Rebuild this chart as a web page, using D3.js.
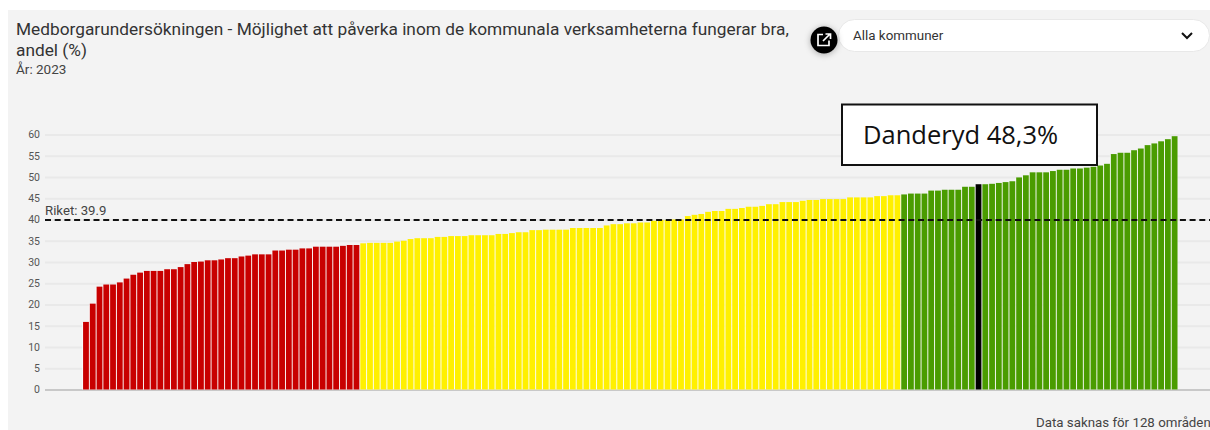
<!DOCTYPE html>
<html>
<head>
<meta charset="utf-8">
<script src="https://cdn.jsdelivr.net/npm/d3@7"></script>
<style>
  html, body { margin: 0; padding: 0; background: #fff; overflow: hidden; }
  text { font-family: Roboto, sans-serif; }
</style>
</head>
<body>
<div id="chart"></div>
<script>
// values, sorted low to high
const redValues = [15.9, 20.2, 24.2, 24.7, 24.7, 25.2, 26.1, 27, 27.5, 27.9,
  27.9, 27.9, 28.3, 28.3, 28.8, 29.5, 30, 30.1, 30.4, 30.4,
  30.6, 30.9, 30.9, 31.3, 31.5, 31.8, 31.8, 31.8, 32.7, 32.7,
  32.9, 32.9, 33.2, 33.2, 33.6, 33.6, 33.6, 33.6, 33.8, 34, 34]
const yellowValues = [34.4, 34.5, 34.5, 34.5, 34.5, 34.8, 35, 35.4, 35.6, 35.6,
  35.6, 35.9, 35.9, 36.1, 36.1, 36.1, 36.3, 36.3, 36.3, 36.3,
  36.6, 36.6, 36.8, 37, 37, 37.5, 37.5, 37.6, 37.6, 37.6,
  37.6, 38, 38, 38, 38, 38, 38.6, 38.9, 38.9, 39.1,
  39.1, 39.3, 39.3, 39.7, 39.9, 39.9, 40, 40, 40.8, 41.1,
  41.3, 41.8, 42, 42, 42.5, 42.5, 42.7, 43, 43, 43.2,
  43.6, 43.6, 44.1, 44.1, 44.1, 44.4, 44.6, 44.6, 44.8, 44.8,
  44.8, 44.8, 45.2, 45.2, 45.2, 45.2, 45.5, 45.5, 45.7, 45.7]
const greenValues = [45.9, 46.1, 46.1, 46.1, 46.8, 46.8, 47, 47, 47, 47.7,
  47.7, 48.3, 48.3, 48.4, 48.6, 48.8, 49, 49.9, 50.4, 51.1,
  51.1, 51.1, 51.4, 51.7, 51.7, 52, 52, 52.2, 52.4, 52.7,
  53.1, 55.4, 55.7, 55.7, 56.3, 56.7, 57.5, 57.9, 58.4, 58.9, 59.6]
const yTicks = [0, 5, 10, 15, 20, 25, 30, 35, 40, 45, 50, 55, 60]
const rikets = 39.9
const highlightRank = 132 // Danderyd

const width = 1210,
      height = 430

const bars = [
  ...redValues.map(v => ({ value: v, color: "#c80000" })),
  ...yellowValues.map(v => ({ value: v, color: "#fff000" })),
  ...greenValues.map(v => ({ value: v, color: "#4a9c00" }))
]
bars.forEach((d, i) => { d.rank = i })
bars[highlightRank].color = "#000"

let svg = d3.select("#chart")
  .append("svg")
  .attr("width", width)
  .attr("height", height)
  .style("display", "block")

// panel background
svg.append("rect")
  .attr("x", 8).attr("y", 10)
  .attr("width", width - 8).attr("height", height - 10)
  .attr("fill", "#f3f3f3")

let x = d3.scaleBand()
  .domain(bars.map(d => d.rank))
  .range([82.6, 1178])
  .paddingInner(0.14)
  .paddingOuter(0.07)

let y = d3.scaleLinear()
  .domain([0, 60])
  .range([389.5, 134.5])

// y axis with gridlines
let yAxis = svg.append("g")
  .attr("transform", "translate(45,0)")
  .call(d3.axisLeft(y).tickValues(yTicks).tickSize(0).tickPadding(5))
yAxis.select(".domain").remove()
yAxis.selectAll("text")
  .style("font-family", "Roboto, sans-serif")
  .style("font-size", "10.5px")
  .attr("fill", "#555")
yAxis.selectAll(".tick").append("line")
  .attr("x1", 0)
  .attr("x2", width - 45)
  .attr("stroke", d => d === 0 ? "#c8c8c8" : "#e9e9e9")
  .attr("stroke-width", 2)

// white strip behind the bars shows through the gaps
svg.append("g").selectAll("rect")
  .data(bars)
  .join("rect")
  .attr("x", d => x(d.rank) - 1)
  .attr("width", x.step())
  .attr("y", d => y(d.value) + 1)
  .attr("height", d => y(0) - y(d.value) - 1)
  .attr("fill", "#fff")
  .attr("fill-opacity", 0.75)

svg.append("g").selectAll("rect")
  .data(bars)
  .join("rect")
  .attr("x", d => x(d.rank))
  .attr("width", x.bandwidth())
  .attr("y", d => y(d.value))
  .attr("height", d => y(0) - y(d.value))
  .attr("fill", d => d.color)

// national average line
svg.append("line")
  .attr("x1", 45)
  .attr("x2", width)
  .attr("y1", y(rikets))
  .attr("y2", y(rikets))
  .attr("stroke", "#111")
  .attr("stroke-width", 2)
  .attr("stroke-dasharray", "6,3.7")
svg.append("text")
  .attr("x", 45)
  .attr("y", y(rikets) - 5)
  .style("font-size", "13.2px")
  .attr("fill", "#444")
  .text("Riket: " + rikets)

// title
const titleLines = ["Medborgarundersökningen - Möjlighet att påverka inom de kommunala verksamheterna fungerar bra,", "andel (%)"]
svg.append("g").selectAll("text")
  .data(titleLines)
  .join("text")
  .attr("x", 16)
  .attr("y", (d, i) => 35 + i * 21)
  .style("font-size", "17.3px")
  .attr("fill", "#333")
  .text(d => d)
svg.append("text")
  .attr("x", 16)
  .attr("y", 74)
  .style("font-size", "13.5px")
  .attr("fill", "#444")
  .text("År: 2023")

// dropdown
svg.append("rect")
  .attr("x", 838.5).attr("y", 19.5)
  .attr("width", 371).attr("height", 32)
  .attr("rx", 16)
  .attr("fill", "#fff")
  .attr("stroke", "#e8e8e8")
svg.append("text")
  .attr("x", 853)
  .attr("y", 40)
  .style("font-size", "13.4px")
  .attr("fill", "#333")
  .text("Alla kommuner")
svg.append("path")
  .attr("d", "M1182 33l5 5l5 -5")
  .attr("fill", "none")
  .attr("stroke", "#111")
  .attr("stroke-width", 2)

// share button
svg.append("circle")
  .attr("cx", 824).attr("cy", 40).attr("r", 13.5)
  .attr("fill", "#000")
  .style("filter", "drop-shadow(0 1px 3px rgba(0,0,0,0.3))")
svg.append("path")
  .attr("d", "M823 34.5h-5v11h11v-5M823 41l7 -7M825.5 34h5v5")
  .attr("fill", "none")
  .attr("stroke", "#fff")
  .attr("stroke-width", 1.7)

// callout
svg.append("rect")
  .attr("x", 842).attr("y", 104.5)
  .attr("width", 255).attr("height", 60.5)
  .attr("fill", "#fff")
  .attr("stroke", "#111")
  .attr("stroke-width", 2)
svg.append("text")
  .attr("x", 863)
  .attr("y", 144)
  .style("font-family", "'Open Sans', sans-serif")
  .style("font-size", "25.5px")
  .attr("fill", "#111")
  .text("Danderyd 48,3%")

// footer
svg.append("text")
  .attr("x", 1036)
  .attr("y", 427)
  .style("font-size", "13.3px")
  .attr("fill", "#444")
  .text("Data saknas för 128 områden")
</script>
</body>
</html>
